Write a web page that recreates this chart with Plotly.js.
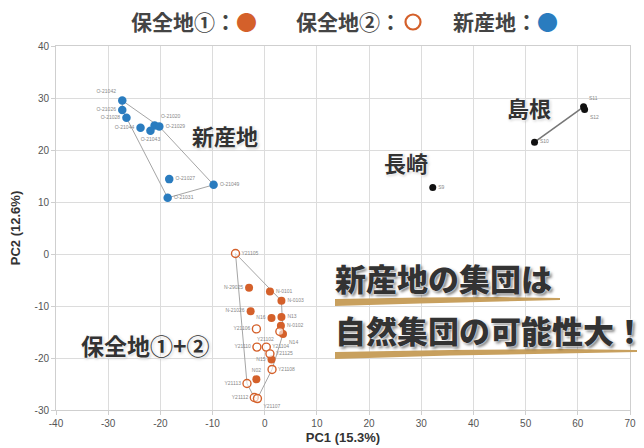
<!DOCTYPE html>
<html><head><meta charset="utf-8">
<script src="https://cdn.plot.ly/plotly-3.0.1.min.js"></script>
<style>html,body{margin:0;padding:0;background:#fff}#c{width:644px;height:448px}</style>
</head><body><div id="c"></div>
<script>
// ---- data ----
const blueNames = ['O-21042','O-21026','O-21028','O-21044','O-21020','O-21029','O-21043','O-21027','O-21049','O-21031'];
const blueX = [-27.3,-27.3,-26.5,-23.8,-21.1,-20.2,-21.9,-18.3,-9.8,-18.6];
const blueY = [29.5,27.7,26.2,24.3,24.7,24.5,23.7,14.4,13.3,10.8];

const site1Names = ['N-29025','N-0101','N-0103','N-21026','N16','N13','N-0102','N14','N15','N02'];
const site1X = [-3.0,1.0,3.2,-2.7,1.3,3.2,3.1,3.5,1.3,-1.6];
const site1Y = [-6.5,-7.2,-9.0,-11.0,-12.3,-12.1,-13.8,-15.4,-20.3,-24.1];

const site2Names = ['Y21105','Y21106','Y21102','Y21110','Y21104','Y21125','Y21108','Y21113','Y21112','Y21107'];
const site2X = [-5.6,-1.6,2.9,-1.5,0.3,1.0,1.4,-3.4,-2.0,-1.4];
const site2Y = [0.1,-14.4,-14.9,-17.9,-17.9,-19.2,-22.2,-24.9,-27.6,-27.8];

const otherNames = ['S11','S12','S10','S9'];
const otherX = [61.1,61.3,51.7,32.2];
const otherY = [28.3,27.8,21.5,12.8];

const blueHull = ['O-21042','O-21029','O-21049','O-21031','O-21028','O-21026','O-21042'];
const orangeHull = ['Y21105','N-0103','N14','Y21108','Y21107','Y21112','Y21113','Y21105'];
const shimaneLink = ['S10','S11'];

const xTicks = [-40,-30,-20,-10,0,10,20,30,40,50,60,70];
const xTickText = ['-40','-30','-20','-10','0','10','20','30','40','50','60','70'];
const yTicks = [-30,-20,-10,0,10,20,30,40];
const yTickText = ['-30','-20','-10','0','10','20','30','40'];

// ---- label sides (style) ----
const blueSide = ['top left','middle left','middle left','middle left','top right','middle right','bottom center','middle right','middle right','middle right'];
const site1Side = ['middle left','middle right','middle right','middle left','middle left','middle right','middle right','bottom right','middle left','top center'];
const site2Side = ['middle right','middle left','bottom left','middle left','middle right','middle right','middle right','middle left','middle left','bottom right'];
const otherSide = ['top right','bottom right','middle right','middle right'];

const lookup = {};
function reg(n,x,y){n.forEach((k,i)=>lookup[k]=[x[i],y[i]]);}
reg(blueNames,blueX,blueY);reg(site1Names,site1X,site1Y);reg(site2Names,site2X,site2Y);reg(otherNames,otherX,otherY);
const path = names => ({x:names.map(n=>lookup[n][0]), y:names.map(n=>lookup[n][1])});

const ORANGE = '#d4602a', BLUE = '#2a7cbf';
const lblFont = {size:5, color:'#888', family:'Liberation Sans, Arial'};

const traces = [
  Object.assign({type:'scatter',mode:'lines',line:{color:'#a5a5a5',width:1},hoverinfo:'skip',showlegend:false}, path(blueHull)),
  Object.assign({type:'scatter',mode:'lines',line:{color:'#a5a5a5',width:1},hoverinfo:'skip',showlegend:false}, path(orangeHull)),
  Object.assign({type:'scatter',mode:'lines',line:{color:'#777',width:1.6},hoverinfo:'skip',showlegend:false}, path(shimaneLink)),
  {type:'scatter',mode:'markers+text',x:blueX,y:blueY,text:blueNames,textposition:blueSide,textfont:lblFont,
   marker:{color:BLUE,size:8.5,line:{width:0}},showlegend:false},
  {type:'scatter',mode:'markers+text',x:site1X,y:site1Y,text:site1Names,textposition:site1Side,textfont:lblFont,
   marker:{color:ORANGE,size:8,line:{width:0}},showlegend:false},
  {type:'scatter',mode:'markers+text',x:site2X,y:site2Y,text:site2Names,textposition:site2Side,textfont:lblFont,
   marker:{color:'rgba(255,255,255,0.6)',size:8,line:{color:ORANGE,width:1.4}},showlegend:false},
  {type:'scatter',mode:'markers+text',x:otherX,y:otherY,text:otherNames,textposition:otherSide,textfont:lblFont,
   marker:{color:'#111',size:7},showlegend:false}
];

const W=644,H=448,L=56,R=14,T=46,B=38;
const PW=W-L-R, PH=H-T-B;
const px = p => (p-L)/PW, py = p => (H-B-p)/PH;

const CJK = 'Noto Sans CJK JP, sans-serif';
const glow = '0 0 2px #fff, 0 0 3px #fff, 0 0 4px #fff, 1px 1px 3px rgba(0,0,0,0.35)';
const banner = '0 0 2px #fff, 0 0 2px #fff, 2px 2px 3px rgba(0,0,0,0.55)';

function ann(text,x,y,size,opts){
  return Object.assign({xref:'paper',yref:'paper',x:px(x),y:py(y),text:text,showarrow:false,
    xanchor:'center',yanchor:'middle',
    font:{family:CJK,size:size,color:'#333',weight:700,shadow:glow}},opts||{});
}
const legFont = {family:CJK,size:21,color:'#444',weight:700};

const annotations = [
  ann('保全地①：<span style="color:'+ORANGE+'">●</span>',194,21,21,{font:legFont}),
  ann('保全地②：',348,21,21,{font:legFont}),
  ann('新産地：<span style="color:'+BLUE+'">●</span>',505,21,21,{font:legFont}),
  ann('新産地',225,135,22),
  ann('島根',529,107,22),
  ann('長崎',406,162,22),
  ann('保全地①+②',145,345,23),
  ann('新産地の集団は',333,277,31,{xanchor:'left',font:{family:CJK,size:31,color:'#333',weight:900,shadow:banner}}),
  ann('自然集団の可能性大！',333,329,31,{xanchor:'left',font:{family:CJK,size:31,color:'#333',weight:900,shadow:banner}})
];

function brush(pts){
  return {type:'path',xref:'paper',yref:'paper',layer:'above',
    path:'M '+pts.map(p=>px(p[0])+','+py(p[1])).join(' L ')+' Z',
    fillcolor:'#c8a05e',line:{width:0}};
}
const shapes = [
  brush([[335,299],[420,297.5],[500,297],[560,298],[560,300],[500,301.5],[420,303.5],[335,306]]),
  brush([[335,352],[450,350],[560,349],[637,350],[637,352],[560,353.5],[450,355.5],[335,359]]),
  {type:'circle',xref:'paper',yref:'paper',xsizemode:'pixel',ysizemode:'pixel',
   xanchor:px(413),yanchor:py(22),x0:-7.5,x1:7.5,y0:-7.5,y1:7.5,
   line:{color:ORANGE,width:2.2},fillcolor:'rgba(0,0,0,0)'}
];

const axisCommon = {showgrid:true,gridcolor:'#dcdcdc',gridwidth:1,zeroline:false,showline:true,linecolor:'#cfcfcf',
  mirror:true,ticks:'outside',ticklen:4,tickcolor:'#cfcfcf',tickmode:'array',
  tickfont:{family:'Liberation Sans, Arial',size:10,color:'#555'}};

const layout = {
  width:W,height:H,margin:{l:L,r:R,t:T,b:B},paper_bgcolor:'#fff',plot_bgcolor:'#fff',
  showlegend:false,
  xaxis:Object.assign({},axisCommon,{range:[-40,70],tickvals:xTicks,ticktext:xTickText,
    title:{text:'PC1 (15.3%)',font:{family:'Liberation Sans, Arial',size:13,color:'#333',weight:700},standoff:4}}),
  yaxis:Object.assign({},axisCommon,{range:[-30,40],tickvals:yTicks,ticktext:yTickText,
    title:{text:'PC2 (12.6%)',font:{family:'Liberation Sans, Arial',size:13,color:'#333',weight:700},standoff:10}}),
  annotations:annotations,shapes:shapes
};

Plotly.newPlot('c',traces,layout,{displayModeBar:false,staticPlot:true});
</script></body></html>
